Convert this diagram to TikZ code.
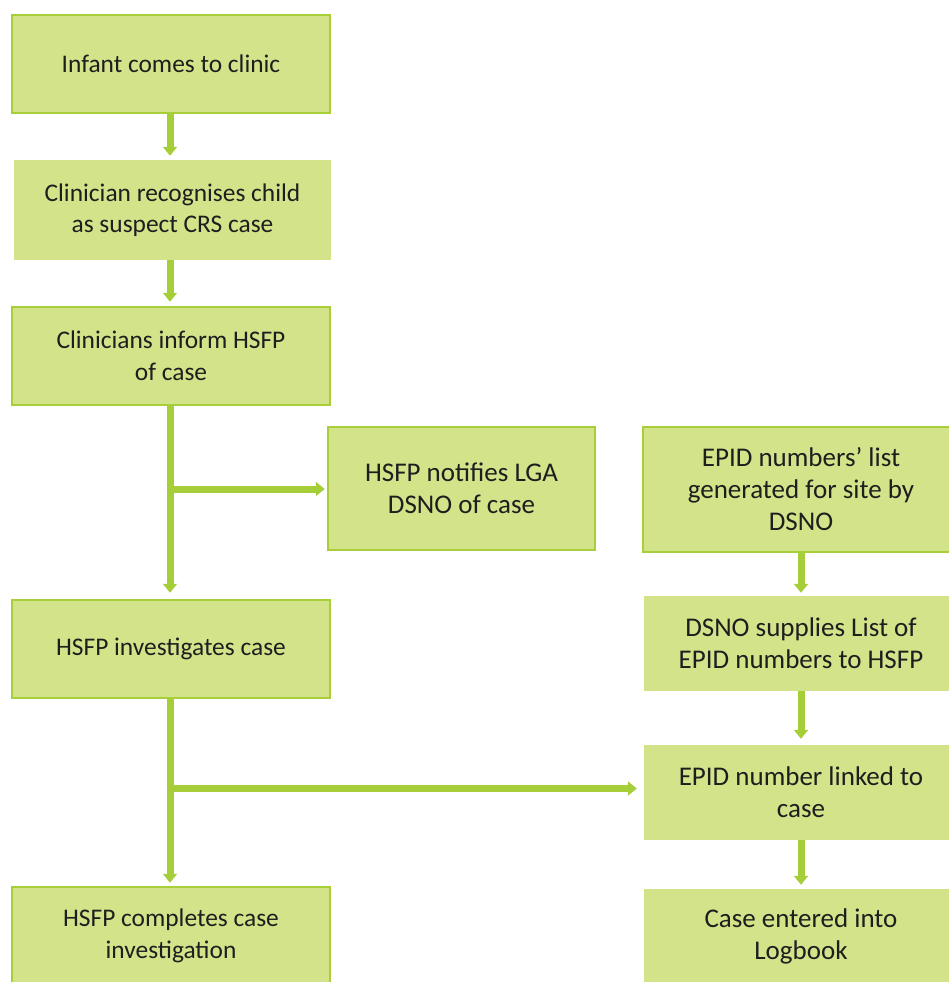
\documentclass[tikz,border=0pt]{standalone}
\usepackage{fontspec}
\setmainfont{Carlito}
\usetikzlibrary{arrows.meta}
\definecolor{boxfill}{HTML}{D3E38A}
\definecolor{boxline}{HTML}{A8CF3A}
\definecolor{arrowc}{HTML}{A6CE38}
\definecolor{txt}{HTML}{1E1E1E}
\tikzset{
  box/.style={rectangle, fill=boxfill, inner sep=0pt, align=center, text=txt,
    font=\fontsize{25.4}{31.5}\selectfont},
  big/.style={font=\fontsize{27}{32}\selectfont},
  framed/.style={box, draw=boxline, line width=2.5pt},
  arr/.style={draw=arrowc, line width=7pt, -{Triangle[width=14pt,length=9pt]}},
  ln/.style={draw=arrowc, line width=7pt}
}
\begin{document}
\begin{tikzpicture}[x=1pt,y=-1pt]
\useasboundingbox (0,0) rectangle (949,982);
\begin{scope}
\clip (0,0) rectangle (949,982);
\node[framed, minimum width=318pt, minimum height=98pt] (infant) at (171,64) {Infant comes to clinic};
\node[box, minimum width=317pt, minimum height=100pt] (recog) at (172.5,210) {Clinician recognises child\\as suspect CRS case};
\node[framed, minimum width=318pt, minimum height=98pt] (inform) at (171,356) {Clinicians inform HSFP\\of case};
\node[framed, big, minimum width=267pt, minimum height=123pt] (notify) at (461.5,488.5) {HSFP notifies LGA\\DSNO of case};
\node[framed, big, minimum width=316pt, minimum height=125pt] (epidlist) at (801,489.5) {EPID numbers’ list\\generated for site by\\DSNO};
\node[framed, minimum width=318pt, minimum height=98pt] (invest) at (171,649) {HSFP investigates case};
\node[box, big, minimum width=314pt, minimum height=95pt] (supply) at (801,643.5) {DSNO supplies List of\\EPID numbers to HSFP};
\node[box, big, minimum width=314pt, minimum height=95pt] (linked) at (801,792.5) {EPID number linked to\\case};
\node[framed, minimum width=318pt, minimum height=98pt] (complete) at (171,936) {HSFP completes case\\investigation};
\node[box, big, minimum width=314pt, minimum height=95pt] (entered) at (801,936.5) {Case entered into\\Logbook};
\end{scope}
% left column
\draw[arr, shorten >=4pt] ([xshift=-1pt]infant.south) -- ([xshift=-1pt]infant.south |- recog.north);
\draw[arr, shorten >=4pt] ([xshift=-1pt]recog.south -| infant.south) -- ([xshift=-1pt]infant.south |- inform.north);
\draw[arr, shorten >=6pt] ([xshift=-1pt]inform.south) -- ([xshift=-1pt]inform.south |- invest.north);
\coordinate (b1) at (170,489);
\draw[arr, shorten >=2pt] (b1) -- (b1 -| notify.west);
\draw[arr, shorten >=3pt] ([xshift=-1pt]invest.south) -- ([xshift=-1pt]invest.south |- complete.north);
\coordinate (b2) at (170,788.5);
\draw[arr, shorten >=7pt] (b2) -- (b2 -| linked.west);
% right column
\draw[arr, shorten >=3pt] (epidlist.south) -- (supply.north);
\draw[arr, shorten >=6pt] (supply.south) -- (linked.north);
\draw[arr, shorten >=4pt] (linked.south) -- (entered.north);
\end{tikzpicture}
\end{document}
